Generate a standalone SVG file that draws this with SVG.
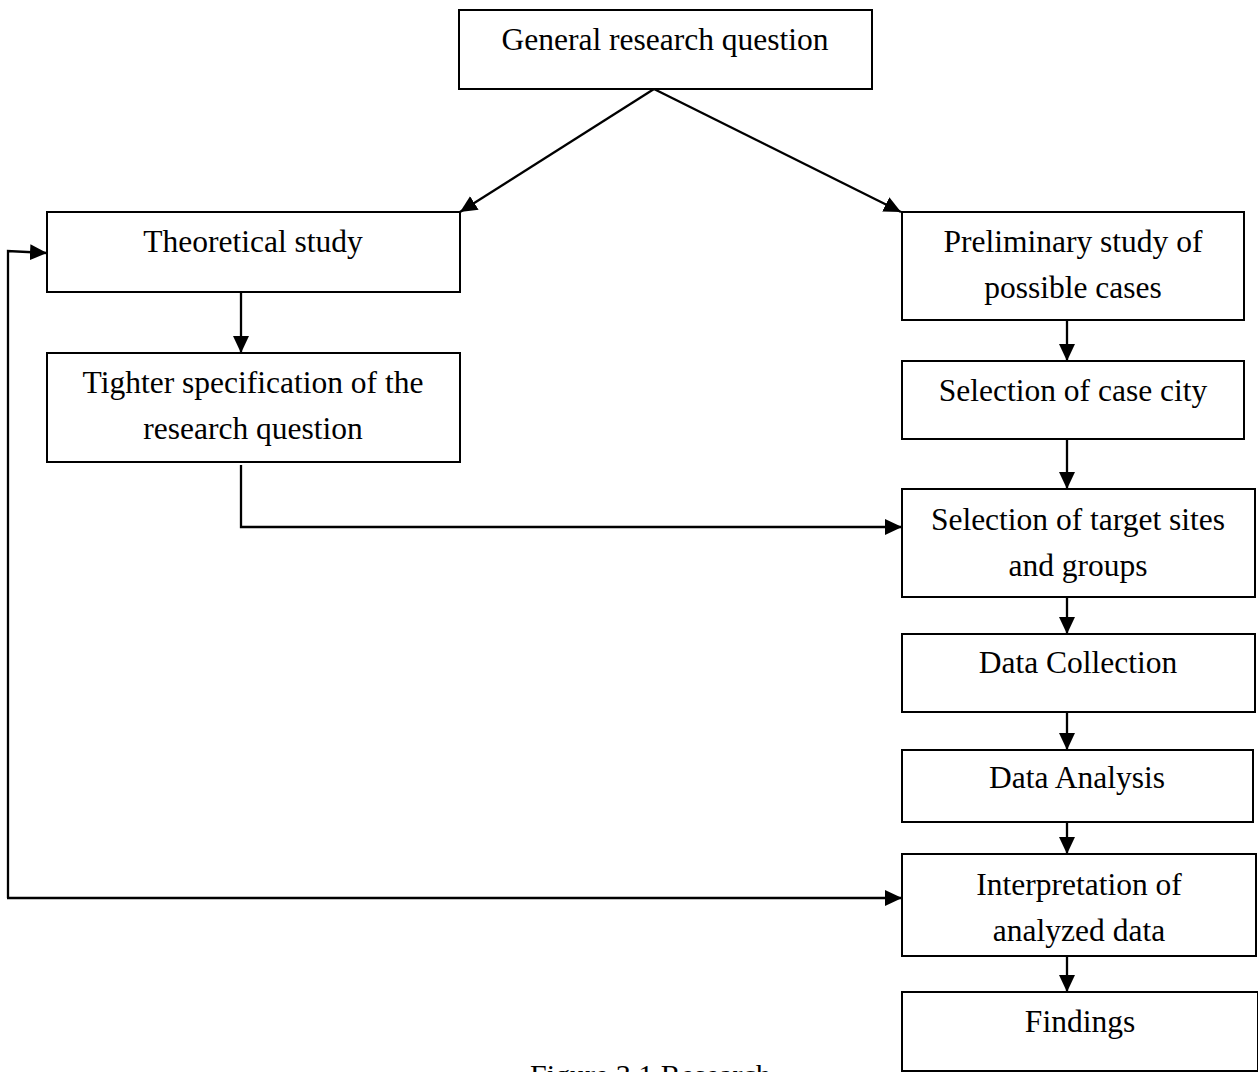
<svg xmlns="http://www.w3.org/2000/svg" width="1258" height="1072" viewBox="0 0 1258 1072">
<defs>
<marker id="ah" markerUnits="userSpaceOnUse" markerWidth="17" markerHeight="16" viewBox="0 0 17 16" refX="17" refY="8" orient="auto">
<path d="M0,0 L17,8 L0,16 Z" fill="#000"/>
</marker>
<style>
.box{fill:#fff;stroke:#000;stroke-width:2}
.t{font-family:"Liberation Serif","Times New Roman",serif;font-size:31.5px;fill:#000;text-anchor:middle}
.c{fill:none;stroke:#000;stroke-width:2.3}
</style>
</defs>
<rect width="1258" height="1072" fill="#fff"/>
<g id="connectors">
<path class="c" d="M654,89 L460,212" marker-end="url(#ah)"/>
<path class="c" d="M654,89 L901,212" marker-end="url(#ah)"/>
<path class="c" d="M241,292 L241,353" marker-end="url(#ah)"/>
<path class="c" d="M241,465 L241,527 L902,527" marker-end="url(#ah)"/>
<path class="c" d="M1067,320 L1067,361" marker-end="url(#ah)"/>
<path class="c" d="M1067,439 L1067,489" marker-end="url(#ah)"/>
<path class="c" d="M1067,597 L1067,634" marker-end="url(#ah)"/>
<path class="c" d="M1067,712 L1067,750" marker-end="url(#ah)"/>
<path class="c" d="M1067,822 L1067,854" marker-end="url(#ah)"/>
<path class="c" d="M1067,956 L1067,992" marker-end="url(#ah)"/>
<path class="c" d="M8,898 L8,251 L47,253" marker-end="url(#ah)"/>
<path class="c" d="M7,898 L902,898" marker-end="url(#ah)"/>
</g>
<g id="general"><rect class="box" x="459" y="10" width="413" height="79"/><text class="t" x="665" y="50">General research question</text></g>
<g id="theoretical"><rect class="box" x="47" y="212" width="413" height="80"/><text class="t" x="253" y="252">Theoretical study</text></g>
<g id="tighter"><rect class="box" x="47" y="353" width="413" height="109"/><text class="t" x="253" y="393">Tighter specification of the</text><text class="t" x="253" y="439">research question</text></g>
<g id="preliminary"><rect class="box" x="902" y="212" width="342" height="108"/><text class="t" x="1073" y="252">Preliminary study of</text><text class="t" x="1073" y="298">possible cases</text></g>
<g id="casecity"><rect class="box" x="902" y="361" width="342" height="78"/><text class="t" x="1073" y="401">Selection of case city</text></g>
<g id="targetsites"><rect class="box" x="902" y="489" width="353" height="108"/><text class="t" x="1078" y="530">Selection of target sites</text><text class="t" x="1078" y="576">and groups</text></g>
<g id="datacollection"><rect class="box" x="902" y="634" width="353" height="78"/><text class="t" x="1078" y="673">Data Collection</text></g>
<g id="dataanalysis"><rect class="box" x="902" y="750" width="351" height="72"/><text class="t" x="1077" y="788">Data Analysis</text></g>
<g id="interpretation"><rect class="box" x="902" y="854" width="354" height="102"/><text class="t" x="1079" y="895">Interpretation of</text><text class="t" x="1079" y="941">analyzed data</text></g>
<g id="findings"><rect class="box" x="902" y="992" width="356" height="79"/><text class="t" x="1080" y="1032">Findings</text></g>
<text x="530" y="1085" style="font-family:'Liberation Serif','Times New Roman',serif;font-size:30px;fill:#000">Figure 3.1 Research</text>
</svg>
